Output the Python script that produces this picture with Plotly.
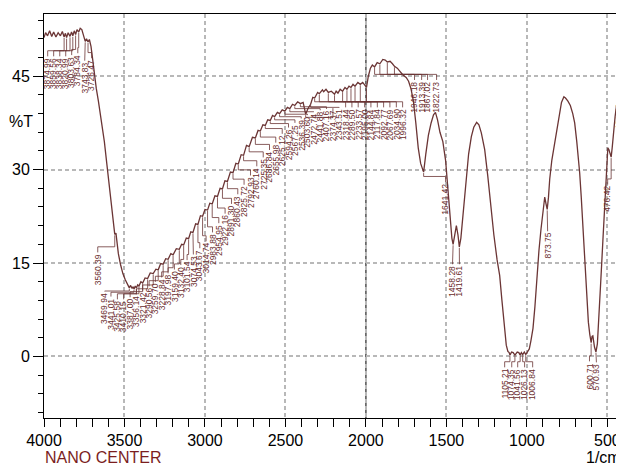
import numpy as np
import plotly.graph_objects as go

# ---------------- data ----------------
wavenumber = [
    4000, 3990, 3978, 3965, 3952, 3940, 3926, 3912, 3898, 3886,
    3874.99, 3867, 3859.56, 3850, 3838.34, 3829, 3820.99, 3812, 3803.63, 3795,
    3784.34, 3775, 3765, 3755, 3743.83, 3736, 3726.47, 3718, 3708, 3698,
    3688, 3675, 3662, 3650, 3638, 3625, 3610, 3595, 3580, 3568,
    3560.39, 3553, 3548, 3538, 3525, 3510, 3495, 3480, 3469.94, 3462,
    3452.58, 3446, 3441.01, 3433, 3425.58, 3418, 3410.15, 3398, 3387.00, 3372,
    3356.14, 3340, 3321.42, 3305, 3290.56, 3275, 3259.70, 3244, 3228.84, 3212,
    3197.98, 3178, 3159.40, 3145, 3132.40, 3116, 3101.54, 3088, 3074.53, 3058,
    3043.67, 3028, 3014.74, 3000, 2983.88, 2970, 2954.95, 2938, 2922.16, 2906,
    2891.30, 2876, 2860.43, 2842, 2825.72, 2808, 2792.93, 2775, 2760.14, 2742,
    2725.35, 2705, 2686.84, 2670, 2655.98, 2640, 2625.12, 2610, 2594.26, 2580,
    2567.25, 2550, 2536.39, 2520, 2503.60, 2488, 2472.74, 2456, 2441.88, 2424,
    2407.16, 2390, 2374.37, 2360, 2343.51, 2330, 2318.44, 2300, 2289.50, 2270,
    2262.50, 2248, 2233.57, 2215, 2195.00, 2185, 2173.78, 2160, 2144.84, 2130,
    2117.84, 2105, 2092.77, 2080, 2067.69, 2050, 2034.90, 2020, 2005, 1996.32,
    1985, 1972, 1960, 1946.18, 1930, 1913.39, 1895, 1880, 1867.02, 1850,
    1835, 1822.73, 1805, 1790, 1770, 1750, 1735, 1720, 1705, 1690,
    1675, 1660, 1641.42, 1628, 1612, 1595, 1580, 1568, 1555, 1540,
    1522, 1505, 1490, 1478, 1466, 1458.28, 1448, 1438, 1428, 1419.61,
    1410, 1400, 1388, 1375, 1362, 1345, 1330, 1312, 1298, 1283,
    1262, 1243, 1225, 1205, 1185, 1169, 1155, 1140, 1128, 1118,
    1110, 1105.21, 1095, 1085, 1074.35, 1060, 1050, 1041.56, 1034, 1026.13,
    1016, 1006.84, 995, 985, 975, 962, 950, 938, 925, 912,
    900, 889, 881, 873.75, 866, 858, 845, 830, 815, 800,
    785, 770, 760, 745, 730, 715, 703, 690, 680, 672,
    662, 653, 640, 628, 618, 609, 600.71, 595, 590, 580,
    570.93, 562, 552, 540, 528, 515, 505, 497, 490, 482,
    476.42, 470, 462, 452, 442, 436, 431.59, 424, 415, 409,
]
transmittance = [
    51.2, 52.0, 51.5, 52.3, 51.4, 52.1, 51.3, 52.0, 51.5, 52.2,
    51.3, 51.9, 51.2, 52.0, 51.4, 52.1, 51.5, 52.3, 51.7, 52.5,
    52.1, 52.7, 52.5, 51.4, 50.6, 51.0, 50.5, 50.9, 49.8, 47.8,
    45.5, 43.0, 41.0, 39.0, 37.0, 34.5, 31.0, 27.5, 23.5, 20.8,
    19.6, 19.8, 18.6, 16.5, 14.8, 13.3, 12.3, 11.6, 11.0, 11.4,
    10.9, 11.2, 10.8, 11.3, 11.0, 11.5, 11.3, 12.0, 11.8, 12.6,
    12.5, 13.4, 13.3, 14.0, 13.9, 14.9, 14.8, 15.7, 15.6, 16.5,
    16.3, 17.3, 17.2, 18.0, 17.9, 19.0, 18.9, 20.0, 19.9, 21.3,
    21.2, 22.6, 22.5, 23.6, 23.5, 24.6, 24.5, 25.8, 25.7, 27.0,
    26.9, 28.2, 28.1, 29.6, 29.5, 31.0, 30.9, 32.4, 32.3, 33.9,
    33.7, 35.2, 35.1, 36.3, 36.2, 37.2, 37.1, 38.0, 37.9, 38.7,
    38.5, 39.2, 39.0, 39.6, 39.4, 40.0, 39.8, 40.5, 40.3, 40.9,
    40.6, 40.8, 38.9, 39.8, 40.5, 41.6, 41.5, 42.4, 42.2, 42.8,
    42.5, 42.9, 42.4, 42.6, 42.1, 42.6, 42.3, 42.9, 42.6, 43.2,
    42.9, 43.4, 43.2, 43.7, 43.4, 44.0, 43.7, 44.0, 43.4, 43.2,
    45.0, 46.3, 46.8, 46.5, 47.2, 47.0, 47.7, 47.6, 47.3, 47.4,
    47.0, 46.6, 46.3, 45.8, 45.2, 44.8, 44.2, 43.0, 41.0, 37.5,
    33.5, 31.0, 29.6, 32.5, 35.5, 37.5, 38.8, 39.2, 38.0, 36.0,
    34.5, 31.5, 27.0, 22.5, 19.0, 18.0, 19.8, 21.0, 19.5, 17.6,
    19.0, 22.0, 25.5, 29.5, 32.5, 35.3, 36.8, 37.6, 37.2, 35.9,
    33.2, 29.0, 24.0, 19.5, 15.5, 13.0, 9.0, 4.5, 1.8, 0.8,
    0.6, 0.2, 0.7, 0.6, 0.2, 0.7, 0.6, 0.2, 0.6, 0.3,
    0.7, 0.3, 0.7, 1.2, 2.5, 4.5, 8.0, 12.5, 17.0, 20.5,
    23.5, 25.6, 24.5, 23.6, 25.5, 28.5, 31.5, 34.0, 36.5, 38.8,
    40.8, 41.7, 41.5, 41.0, 40.3, 39.0, 37.5, 34.5, 32.0, 29.5,
    25.5, 21.5, 15.0, 9.5, 5.5, 3.5, 2.2, 3.2, 3.3, 1.5,
    0.7, 2.0, 6.0, 12.5, 18.5, 24.0, 28.5, 33.5, 33.2, 32.3,
    32.0, 33.5, 36.0, 38.5, 40.5, 41.4, 41.1, 41.7, 40.9, 40.2,
]

# labelled peaks (the label text is the peak wavenumber)
peak_wn = [
    3874.99, 3859.56, 3838.34, 3820.99, 3803.63, 3784.34, 3743.83, 3726.47,
    3560.39,
    3469.94, 3441.01, 3425.58, 3410.15, 3387.00, 3356.14, 3321.42, 3290.56,
    3259.70, 3228.84, 3197.98, 3159.40, 3132.40, 3101.54, 3074.53, 3043.67,
    3014.74, 2983.88, 2954.95, 2922.16, 2891.30, 2860.43, 2825.72, 2792.93,
    2760.14, 2725.35, 2686.84, 2655.98, 2625.12, 2594.26, 2567.25, 2536.39,
    2503.60, 2472.74, 2441.88, 2407.16, 2374.37, 2343.51, 2318.44, 2289.50,
    2233.57, 2195.00, 2144.84, 2117.84, 2092.77, 2067.69, 2034.90, 1996.32,
    1946.18, 1913.39, 1867.02, 1822.73,
    1641.42, 1458.28, 1419.61,
    1105.21, 1074.35, 1041.56, 1026.13, 1006.84,
    873.75, 600.71, 570.93, 476.42, 431.59,
]
# where each peak label is written (wavenumber of the label, %T of its top end)
label_wn = [
    3977, 3940, 3902, 3865, 3828, 3790, 3747, 3704,
    3666,
    3623, 3584, 3544, 3505, 3465, 3426, 3387, 3347,
    3308, 3269, 3229, 3190, 3150, 3111, 3072, 3032,
    2993, 2953, 2914, 2875, 2835, 2796, 2757, 2717,
    2678, 2638, 2599, 2560, 2520, 2481, 2441, 2402,
    2363, 2323, 2284, 2245, 2205, 2166, 2126, 2087,
    2048, 2008, 1969, 1929, 1890, 1851, 1811, 1772,
    1698, 1654, 1617, 1561,
    1505, 1462, 1419,
    1138, 1094, 1057, 1014, 964,
    871, 611, 568, 498, 430,
]
label_top = [
    48.1, 48.1, 48.1, 48.1, 48.3, 48.6, 47.4, 47.8,
    16.6,
    10.35, 9.51, 9.06, 9.06, 9.40, 9.86, 10.47, 11.16,
    11.87, 12.58, 13.24, 13.85, 14.57, 15.36, 16.27, 17.27,
    18.38, 19.81, 21.30, 22.83, 24.39, 25.94, 27.47, 28.96,
    30.43, 31.86, 33.05, 34.23, 35.65, 36.66, 37.41, 38.11,
    38.65, 39.20, 39.44, 39.65, 39.78, 39.84, 39.90, 39.90,
    39.90, 39.90, 39.90, 39.90, 39.90, 39.90, 39.90, 39.90,
    44.3, 44.3, 44.3, 44.3,
    27.9, 14.7, 14.7,
    -1.86, -1.86, -1.86, -1.86, -1.86,
    20.0, -0.9, -1.06, 27.5, 40.7,
]

x_ticks = [4000, 3500, 3000, 2500, 2000, 1500, 1000, 500]
y_ticks = [0, 15, 30, 45]
split_wn = 2000

# ---------------- styling ----------------
LINE = "#6b3535"
LABEL = "#6a2c2c"
FONT = "Liberation Sans, Arial, sans-serif"

fig = go.Figure()
fig.add_trace(go.Scatter(
    x=wavenumber, y=transmittance, mode="lines",
    line=dict(color=LINE, width=1.3), hoverinfo="skip",
))

wn_inc = np.array(wavenumber[::-1], dtype=float)
t_inc = np.array(transmittance[::-1], dtype=float)
lx, ly = [], []
for p, lw, lt in zip(peak_wn, label_wn, label_top):
    tc = float(np.interp(p, wn_inc, t_inc))
    e = min(tc - 0.5, lt + 1.0)
    lx += [p, p, lw, lw, None]
    ly += [tc - 0.15, e, e, lt + 0.1, None]
fig.add_trace(go.Scatter(
    x=lx, y=ly, mode="lines", line=dict(color=LINE, width=0.8),
    hoverinfo="skip",
))

for p, lw, lt in zip(peak_wn, label_wn, label_top):
    fig.add_annotation(
        x=lw, y=lt, xref="x", yref="y", text=f"{p:.2f}", textangle=-90,
        xanchor="center", yanchor="top", showarrow=False, borderpad=0,
        font=dict(family=FONT, size=8.5, color=LABEL),
    )

fig.add_shape(type="line", xref="x", yref="paper", x0=split_wn, x1=split_wn,
              y0=0, y1=1, line=dict(color="#222222", width=1.2), layer="below")

fig.add_annotation(xref="paper", yref="y", x=-0.0398, y=37.7, text="%T",
                   showarrow=False, xanchor="center", yanchor="middle",
                   font=dict(family=FONT, size=16, color="black"))
fig.add_annotation(xref="paper", yref="paper", x=0.0, y=-0.1213, text="NANO CENTER",
                   showarrow=False, xanchor="left", yanchor="bottom", borderpad=0,
                   font=dict(family=FONT, size=16, color="#7b1e1e"))
fig.add_annotation(xref="paper", yref="paper", x=1.0, y=-0.1213, text="1/cm",
                   showarrow=False, xanchor="right", yanchor="bottom", borderpad=0,
                   font=dict(family=FONT, size=16, color="black"))

# the page body adds an 8px margin, so the figure is sized to fit the window
fig.update_layout(
    width=616, height=459,
    margin=dict(l=36, r=2, t=6, b=49),
    plot_bgcolor="white", paper_bgcolor="white",
    showlegend=False, hovermode=False,
    font=dict(family=FONT, size=16, color="black"),
)
fig.update_xaxes(
    range=[4000, 409], tickmode="array", tickvals=x_ticks,
    ticks="outside", ticklen=8, tickwidth=1, tickcolor="black",
    ticklabelstandoff=0,
    showline=True, linecolor="black", linewidth=1, mirror=True,
    showgrid=True, gridcolor="#b8b8b8", gridwidth=1.5, griddash="4px,3px",
    zeroline=False, tickfont=dict(family=FONT, size=16, color="black"),
    minor=dict(tickmode="linear", tick0=0, dtick=100, ticks="outside",
               ticklen=8, tickcolor="black", showgrid=False),
)
fig.update_yaxes(
    range=[-9.9, 55], tickmode="array", tickvals=y_ticks,
    ticks="outside", ticklen=10, tickwidth=1, tickcolor="black",
    showline=True, linecolor="black", linewidth=1, mirror=True,
    showgrid=True, gridcolor="#b8b8b8", gridwidth=1.5, griddash="4px,3px",
    zeroline=False, tickfont=dict(family=FONT, size=16, color="black"),
    minor=dict(tickmode="linear", tick0=0, dtick=3, ticks="outside",
               ticklen=5, tickcolor="black", showgrid=False),
)

fig.write_html("out.html")
